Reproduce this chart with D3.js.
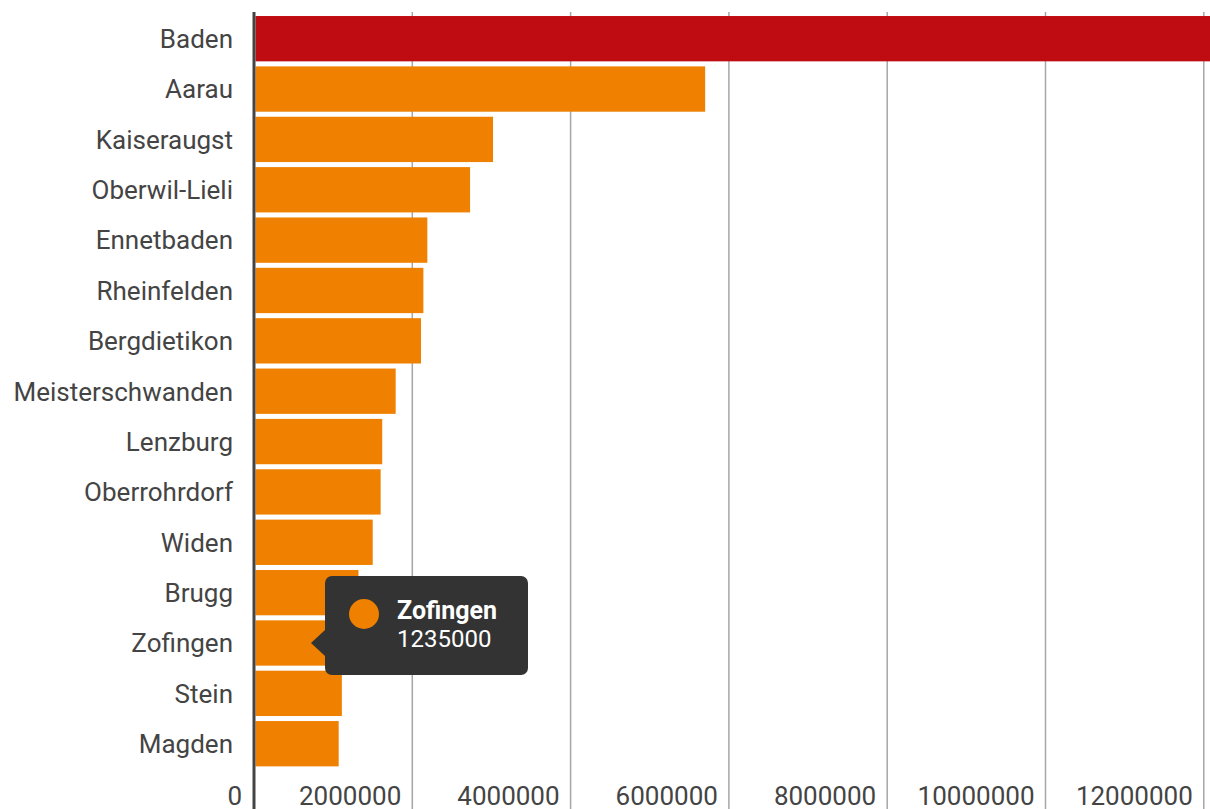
<!DOCTYPE html>
<html><head><meta charset="utf-8">
<script src="https://cdn.jsdelivr.net/npm/d3@7"></script>
<style>
html,body{margin:0;padding:0;background:#fff;overflow:hidden;}
svg{display:block;font-family:Roboto, sans-serif;}
</style></head>
<body>
<svg id="chart" width="1210" height="809"></svg>
<script>
const categories = ["Baden","Aarau","Kaiseraugst","Oberwil-Lieli","Ennetbaden","Rheinfelden","Bergdietikon","Meisterschwanden","Lenzburg","Oberrohrdorf","Widen","Brugg","Zofingen","Stein","Magden"];
const values = [12900000,5700000,3020000,2730000,2190000,2140000,2110000,1790000,1620000,1600000,1500000,1320000,1235000,1110000,1070000];
const tickValues = [0,2000000,4000000,6000000,8000000,10000000,12000000];
const tickLabels = ["0","2000000","4000000","6000000","8000000","10000000","12000000"];
const highlight = "Baden";
const tooltipName = "Zofingen";

const svg = d3.select("#chart");
const x = d3.scaleLinear().domain([0,12000000]).range([254,1203.8]);
const y = d3.scaleBand().domain(categories).range([13.5,768.9]).paddingInner(0.1).paddingOuter(0.05);

// gridlines
svg.append("g").selectAll("line").data(tickValues.slice(1)).join("line")
  .attr("x1",d=>x(d)).attr("x2",d=>x(d)).attr("y1",12).attr("y2",809)
  .attr("stroke","#a6a6a6").attr("stroke-width",1.5);

// bars
svg.append("g").selectAll("rect").data(categories).join("rect")
  .attr("x",x(0)+1.5).attr("y",d=>y(d))
  .attr("width",(d,i)=>Math.max(0,x(values[i])-x(0)-1.5))
  .attr("height",y.bandwidth())
  .attr("fill",d=>d===highlight?"#bf0c12":"#ef8000");

// axis line
svg.append("line").attr("x1",x(0)).attr("x2",x(0)).attr("y1",12).attr("y2",809)
  .attr("stroke","#444").attr("stroke-width",3);

// category labels
svg.append("g").selectAll("text").data(categories).join("text")
  .attr("x",233).attr("y",d=>y(d)+y.bandwidth()/2)
  .attr("dy","0.36em").attr("text-anchor","end")
  .attr("font-size",26).attr("font-weight",400).attr("fill","#444")
  .text(d=>d);

// tick labels
svg.append("g").selectAll("text").data(tickValues).join("text")
  .attr("x",(d,i)=>i===0?x(d)-12:x(d)-11).attr("y",805)
  .attr("text-anchor","end")
  .attr("font-size",26).attr("font-weight",400).attr("fill","#444")
  .text((d,i)=>tickLabels[i]);

// tooltip
const ti = categories.indexOf(tooltipName);
const cy = y(tooltipName)+y.bandwidth()/2;
const tt = svg.append("g");
tt.append("rect").attr("x",325).attr("y",576).attr("width",203).attr("height",99).attr("rx",7)
  .attr("fill","#333");
tt.append("path").attr("d",`M325,${cy-13} L311,${cy} L325,${cy+13} Z`).attr("fill","#333");
tt.append("circle").attr("cx",364).attr("cy",614).attr("r",15).attr("fill","#ef8000");
tt.append("text").attr("x",397).attr("y",619).attr("font-size",25).attr("font-weight",700)
  .attr("fill","#fff").text(tooltipName);
tt.append("text").attr("x",397).attr("y",647).attr("font-size",24).attr("font-weight",400)
  .attr("fill","#fff").text(String(values[ti]));
</script>
</body></html>
